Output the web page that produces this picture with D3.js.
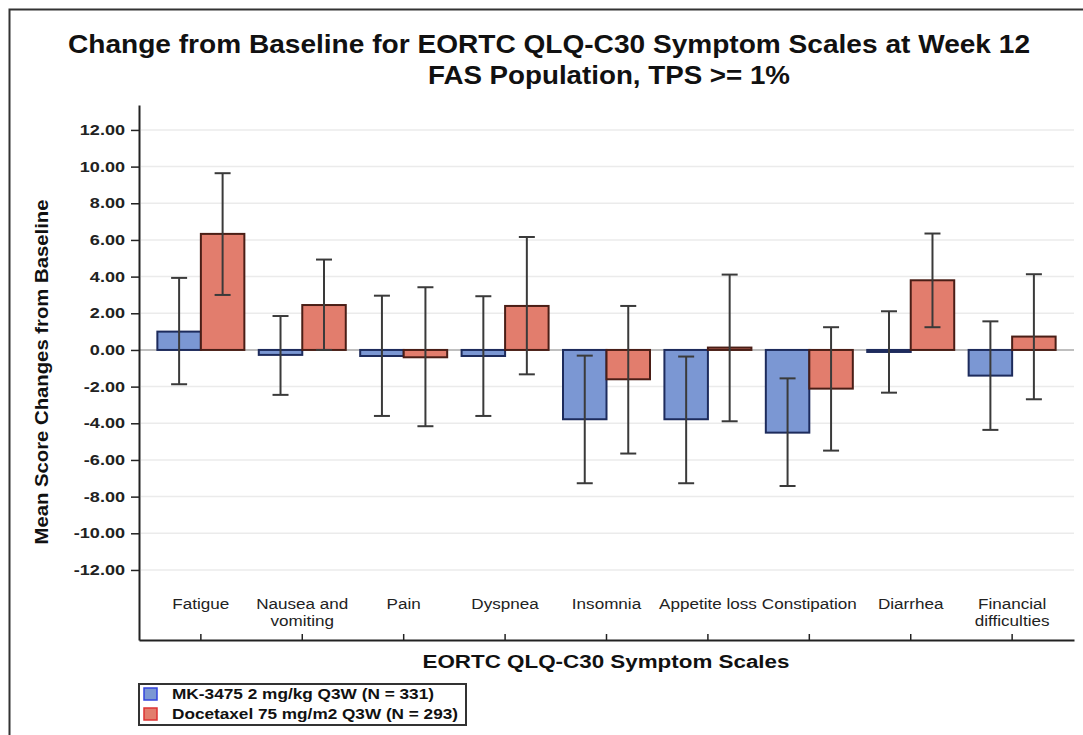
<!DOCTYPE html>
<html><head><meta charset="utf-8">
<script src="https://cdn.jsdelivr.net/npm/d3@7"></script>
<style>body{margin:0;background:#fff;}svg{display:block;}</style>
</head><body><svg id="c" width="1083" height="735"></svg>
<script>
const categories = [["Fatigue"],["Nausea and","vomiting"],["Pain"],["Dyspnea"],["Insomnia"],["Appetite loss"],["Constipation"],["Diarrhea"],["Financial","difficulties"]];
const seriesNames = ["MK-3475 2 mg/kg Q3W (N = 331)","Docetaxel 75 mg/m2 Q3W (N = 293)"];
const mkMean  = [1.0, -0.27, -0.33, -0.33, -3.78, -3.78, -4.51, -0.11, -1.40];
const mkLow   = [-1.87, -2.45, -3.60, -3.60, -7.27, -7.27, -7.42, -2.33, -4.36];
const mkHigh  = [3.93, 1.85, 2.96, 2.93, -0.31, -0.36, -1.55, 2.11, 1.56];
const docMean = [6.33, 2.45, -0.40, 2.40, -1.60, 0.13, -2.11, 3.80, 0.73];
const docLow  = [3.00, 0.00, -4.16, -1.33, -5.65, -3.89, -5.49, 1.24, -2.69];
const docHigh = [9.64, 4.93, 3.42, 6.16, 2.40, 4.11, 1.24, 6.35, 4.13];
const yTicks = [12,10,8,6,4,2,0,-2,-4,-6,-8,-10,-12];

(function(){
const svg = d3.select("#c");
const font = "'Liberation Sans', Arial, sans-serif";
const pL = 139, pR = 1074, pT = 105, pB = 640;
const y = d3.scaleLinear().domain([-15.82, 13.36]).range([pB, pT]);
const x = d3.scaleBand().domain(d3.range(categories.length)).range([pL, pR]).paddingInner(0).paddingOuter(0.11);
const step = x.step();
const bw = 43.5;

function stretch(sel, k){
  sel.each(function(){
    const n = this.getComputedTextLength();
    d3.select(this).attr("textLength", n*k).attr("lengthAdjust","spacingAndGlyphs");
  });
}
function fit(sel, w){ sel.attr("textLength", w).attr("lengthAdjust","spacingAndGlyphs"); }

// frame
svg.append("path").attr("d","M9.5,735 L9.5,9.5 L1083,9.5").attr("fill","none").attr("stroke","#333").attr("stroke-width",2);

// title
fit(svg.append("text").attr("x",549).attr("y",53).attr("text-anchor","middle").attr("font-family",font).attr("font-weight","bold").attr("font-size",25).attr("fill","#111").text("Change from Baseline for EORTC QLQ-C30 Symptom Scales at Week 12"), 962);
fit(svg.append("text").attr("x",609).attr("y",84).attr("text-anchor","middle").attr("font-family",font).attr("font-weight","bold").attr("font-size",25).attr("fill","#111").text("FAS Population, TPS >= 1%"), 362);

// gridlines
svg.append("g").selectAll("line").data(yTicks.filter(d=>d!==0)).join("line")
  .attr("x1",pL+2).attr("x2",pR).attr("y1",d=>y(d)).attr("y2",d=>y(d))
  .attr("stroke","#ebebeb").attr("stroke-width",1.5);
svg.append("line").attr("x1",pL).attr("x2",pR).attr("y1",y(0)).attr("y2",y(0)).attr("stroke","#aaa").attr("stroke-width",1.5);

// y axis
const yAxis = svg.append("g").attr("transform",`translate(${pL},0)`)
  .call(d3.axisLeft(y).tickValues(yTicks).tickSize(8).tickSizeOuter(0).tickFormat(d=>d.toFixed(2)));
yAxis.select(".domain").attr("stroke","#222").attr("stroke-width",2);
yAxis.selectAll(".tick line").attr("stroke","#222").attr("stroke-width",1.5);
const yt = yAxis.selectAll(".tick text").attr("font-family",font).attr("font-weight","bold").attr("font-size",14).attr("fill","#222").attr("x",-14);
stretch(yt, 1.29);

// x axis
const xAxis = svg.append("g").attr("transform",`translate(0,${pB})`)
  .call(d3.axisTop(x).tickSize(6).tickSizeOuter(0).tickFormat(""));
xAxis.select(".domain").attr("stroke","#222").attr("stroke-width",2);
xAxis.selectAll(".tick line").attr("stroke","#222").attr("stroke-width",1.5);

// category labels
const catLines = [];
categories.forEach((c,i)=>c.forEach((t,j)=>catLines.push({i, j, t})));
const ct = svg.append("g").selectAll("text").data(catLines).join("text")
  .attr("x",d=>x(d.i)+step/2).attr("y",d=>609+d.j*17).attr("text-anchor","middle")
  .attr("font-family",font).attr("font-size",14).attr("fill","#222").text(d=>d.t);
stretch(ct, 1.22);

// bars
const mkFill="#7b97d3", mkStroke="#1d2b5c", docFill="#e27d6d", docStroke="#4a1e16";
const bars = svg.append("g");
bars.selectAll("rect.mk").data(mkMean).join("rect").attr("class","mk")
  .attr("x",(d,i)=>x(i)+step/2-bw).attr("width",bw)
  .attr("y",d=>y(Math.max(0,d))).attr("height",d=>Math.abs(y(d)-y(0)))
  .attr("fill",mkFill).attr("stroke",mkStroke).attr("stroke-width",2);
bars.selectAll("rect.doc").data(docMean).join("rect").attr("class","doc")
  .attr("x",(d,i)=>x(i)+step/2).attr("width",bw)
  .attr("y",d=>y(Math.max(0,d))).attr("height",d=>Math.abs(y(d)-y(0)))
  .attr("fill",docFill).attr("stroke",docStroke).attr("stroke-width",2);

// error bars
function errs(low, high, off){
  const g = svg.append("g").attr("stroke","#3a3a3a").attr("stroke-width",2).attr("fill","none");
  low.forEach((l,i)=>{
    const cx = x(i)+step/2+off;
    g.append("line").attr("x1",cx).attr("x2",cx).attr("y1",y(high[i])).attr("y2",y(l));
    g.append("line").attr("x1",cx-8).attr("x2",cx+8).attr("y1",y(high[i])).attr("y2",y(high[i]));
    g.append("line").attr("x1",cx-8).attr("x2",cx+8).attr("y1",y(l)).attr("y2",y(l));
  });
}
errs(mkLow, mkHigh, -bw/2);
errs(docLow, docHigh, bw/2);

// axis titles
fit(svg.append("text").attr("transform","translate(48,372) rotate(-90)").attr("text-anchor","middle")
  .attr("font-family",font).attr("font-weight","bold").attr("font-size",18).attr("fill","#111").text("Mean Score Changes from Baseline"), 345);
fit(svg.append("text").attr("x",606).attr("y",668).attr("text-anchor","middle")
  .attr("font-family",font).attr("font-weight","bold").attr("font-size",18).attr("fill","#111").text("EORTC QLQ-C30 Symptom Scales"), 367);

// legend
const lg = svg.append("g");
lg.append("rect").attr("x",139).attr("y",684).attr("width",327).attr("height",41).attr("fill","#fff").attr("stroke","#333").attr("stroke-width",2);
const swF=[mkFill,docFill], swS=["#3344dd","#dd3333"], lw=[262,286];
seriesNames.forEach((n,i)=>{
  lg.append("rect").attr("x",144).attr("y",688+i*20).attr("width",13).attr("height",12).attr("fill",swF[i]).attr("stroke",swS[i]).attr("stroke-width",1.5);
  fit(lg.append("text").attr("x",172).attr("y",699+i*20).attr("font-family",font).attr("font-weight","bold").attr("font-size",14).attr("fill","#111").text(n), lw[i]);
});
})();
</script></body></html>
